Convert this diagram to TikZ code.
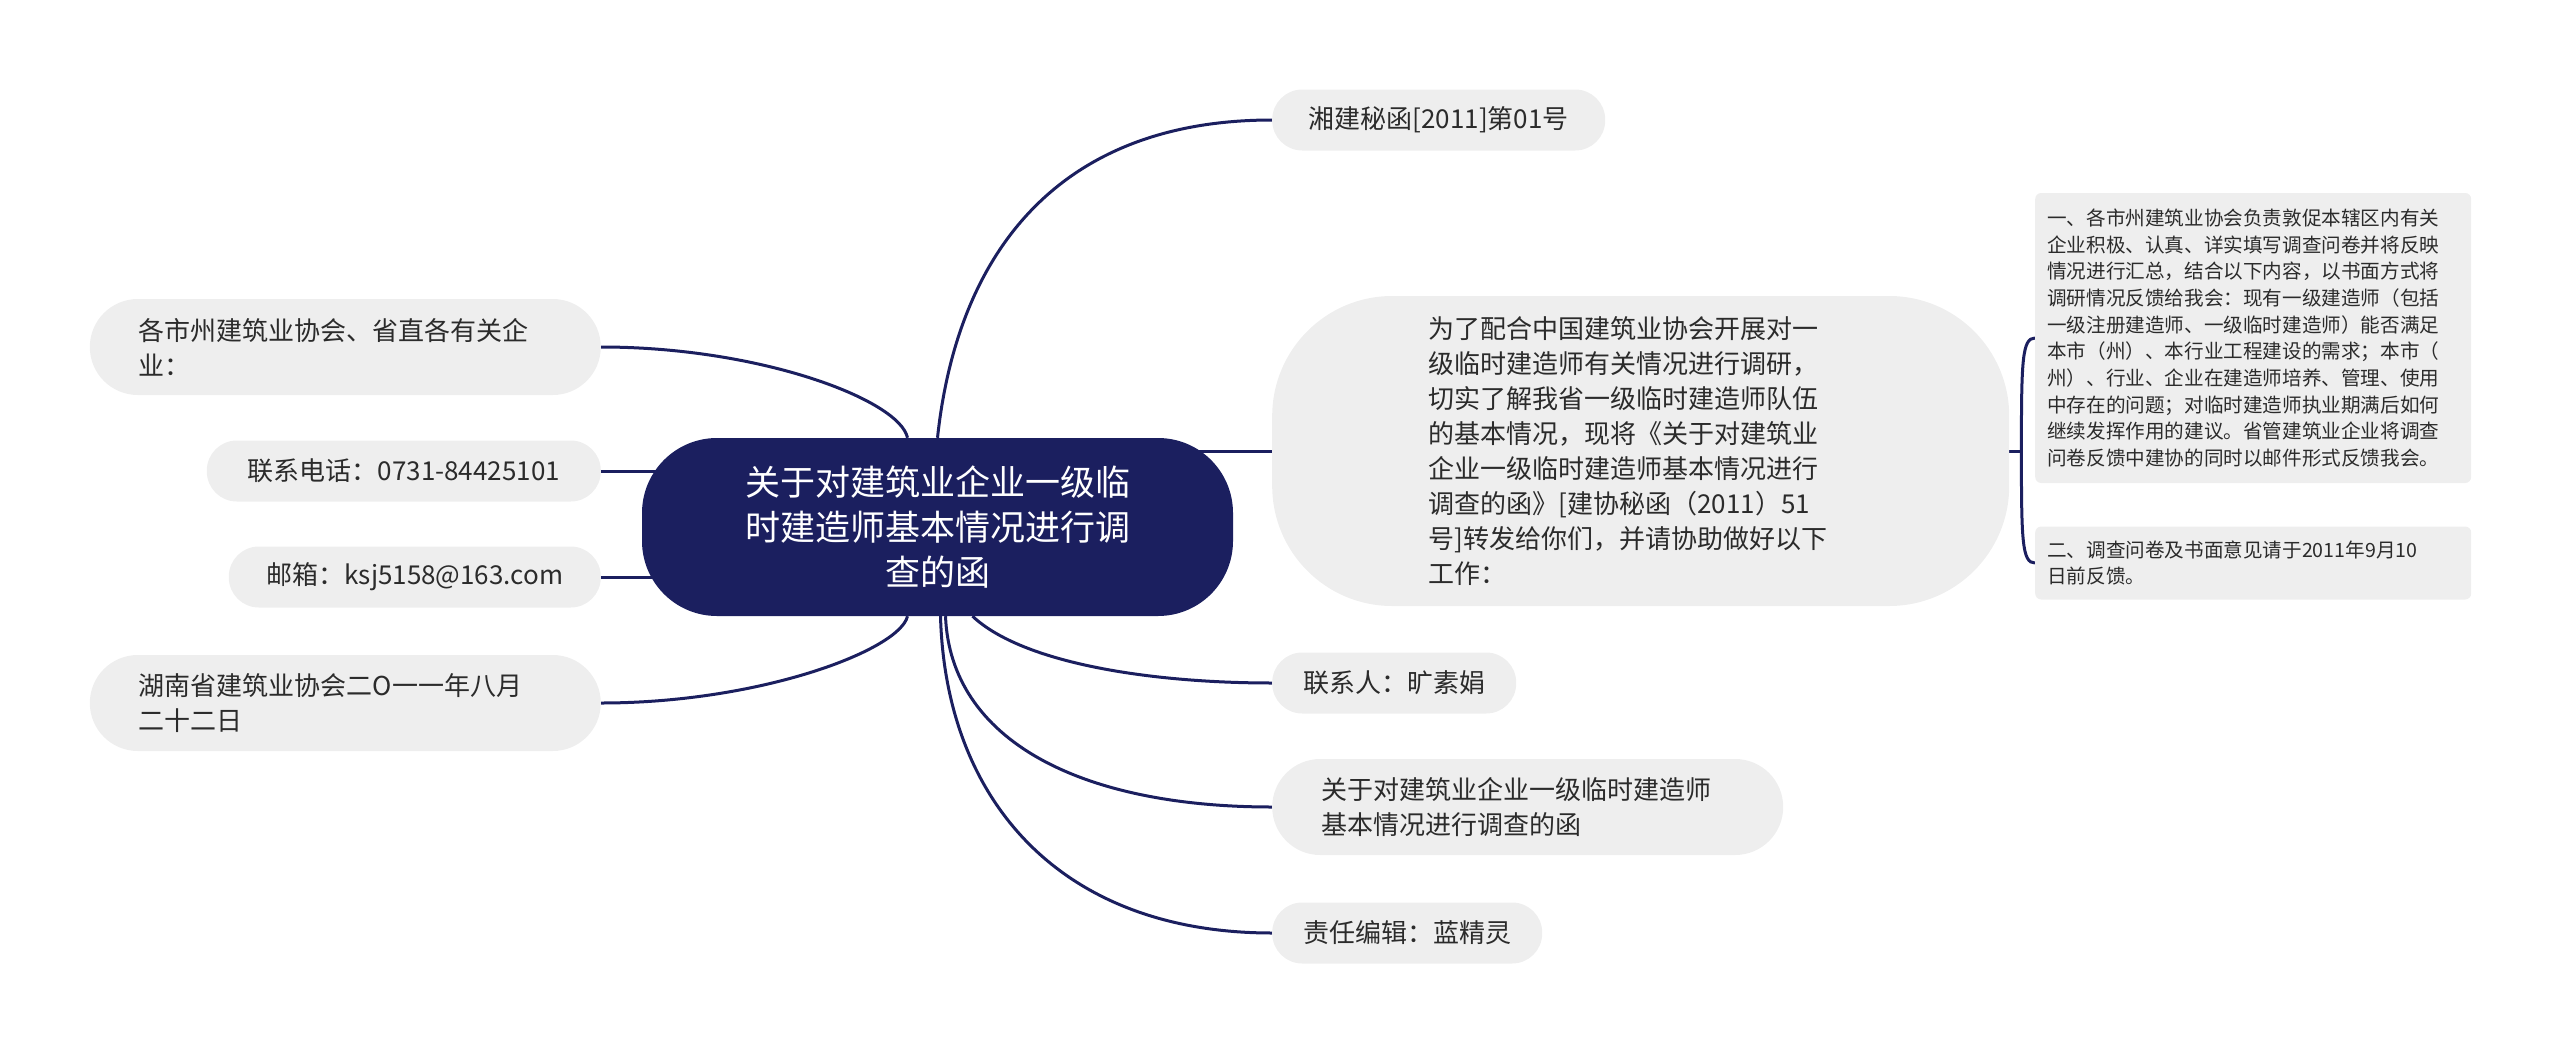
\documentclass[tikz,border=0pt]{standalone}
\usepackage{fontspec}
\setmainfont{Noto Sans CJK SC}
\usetikzlibrary{backgrounds}
\definecolor{ink}{HTML}{1B1F5F}
\definecolor{pill}{HTML}{EEEEEE}
\definecolor{txt}{HTML}{2B2B2B}

\begin{document}
\begin{tikzpicture}[
        x=1pt, y=-1pt,
        root/.style={fill=ink, text=white, rounded corners=75pt, minimum width=591pt, minimum height=178pt, align=center, font=\fontsize{35}{45}\selectfont},
        leaf/.style={fill=pill, text=txt, rounded corners=30pt, minimum height=61pt, inner xsep=31pt, font=\fontsize{26}{35}\selectfont},
        twoline/.style={leaf, rounded corners=48pt, minimum height=96pt, text width=413pt, inner xsep=49pt, align=left},
        note/.style={fill=pill, text=txt, rounded corners=6pt, text width=412pt, inner xsep=12pt, align=left, font=\fontsize{19.6}{26.7}\selectfont},
        link/.style={draw=ink, line width=3pt},
    ]
    \useasboundingbox (0,0) rectangle (2560,1052);

    \node[root] (title) at (937.5,527) {关于对建筑业企业一级临\\时建造师基本情况进行调\\查的函};

    % right side
    \node[leaf, anchor=west, minimum width=333pt] (code) at (1272,120) {湘建秘函[2011]第01号};
    \node[leaf, anchor=west, rounded corners=120pt, minimum width=737pt, minimum height=310pt, text width=424pt, align=left] (intro) at (1272,451)
        {为了配合中国建筑业协会开展对一\\级临时建造师有关情况进行调研，\\切实了解我省一级临时建造师队伍\\的基本情况，现将《关于对建筑业\\企业一级临时建造师基本情况进行\\调查的函》[建协秘函（2011）51\\号]转发给你们，并请协助做好以下\\工作：};
    \node[leaf, anchor=west] (contact) at (1272,683) {联系人：旷素娟};
    \node[twoline, anchor=west] (doc) at (1272,807) {关于对建筑业企业一级临时建造师\\基本情况进行调查的函};
    \node[leaf, anchor=west] (editor) at (1272,933) {责任编辑：蓝精灵};

    \node[note, anchor=west, minimum height=290pt] (item1) at (2035,338)
        {一、各市州建筑业协会负责敦促本辖区内有关\\企业积极、认真、详实填写调查问卷并将反映\\情况进行汇总，结合以下内容，以书面方式将\\调研情况反馈给我会：现有一级建造师（包括\\一级注册建造师、一级临时建造师）能否满足\\本市（州）、本行业工程建设的需求；本市（\\州）、行业、企业在建造师培养、管理、使用\\中存在的问题；对临时建造师执业期满后如何\\继续发挥作用的建议。省管建筑业企业将调查\\问卷反馈中建协的同时以邮件形式反馈我会。};
    \node[note, anchor=west, minimum height=73pt] (item2) at (2035,563)
        {二、调查问卷及书面意见请于2011年9月10\\日前反馈。};

    % left side
    \node[twoline, anchor=east] (to) at (601,347) {各市州建筑业协会、省直各有关企\\业：};
    \node[leaf, anchor=east, minimum width=394pt] (phone) at (601,471) {联系电话：0731-84425101};
    \node[leaf, anchor=east, minimum width=372pt] (mail) at (601,577) {邮箱：ksj5158@163.com};
    \node[twoline, anchor=east] (sign) at (601,703) {湖南省建筑业协会二O一一年八月\\二十二日};

    \begin{pgfonlayer}{background}
        \draw[link] (title.north) .. controls +(20,-187) and +(-212,0) .. (code.west);
        \draw[link] (intro.west) -- (intro.west -| title.center);
        \draw[link] (title.south) ++(35,0) .. controls +(50,47) and +(-122,0) .. (contact.west);
        \draw[link] (title.south) ++(8,0) .. controls +(5,124) and +(-192,0) .. (doc.west);
        \draw[link] (title.south) ++(3,0) .. controls +(5,184) and +(-212,0) .. (editor.west);

        \draw[link] (intro.east) -- ++(12,0) coordinate (brk);
        \draw[link] (brk) .. controls +(0,-90) and +(-13,0) .. (item1.west);
        \draw[link] (brk) .. controls +(0,90) and +(-13,0) .. (item2.west);

        \draw[link] (title.north) ++(-30,0) .. controls +(-8,-38) and +(159,0) .. (to.east);
        \draw[link] (phone.east) -- (phone.east -| title.center);
        \draw[link] (mail.east) -- (mail.east -| title.center);
        \draw[link] (title.south) ++(-30,0) .. controls +(-8,34) and +(159,0) .. (sign.east);
    \end{pgfonlayer}
\end{tikzpicture}
\end{document}
